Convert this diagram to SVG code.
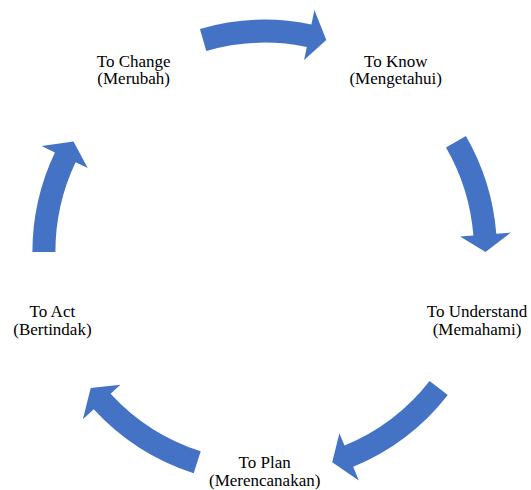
<svg xmlns="http://www.w3.org/2000/svg" width="531" height="490" viewBox="0 0 531 490">
  <style>
    .arrow { fill: #4472C4; stroke: none; }
    .label { font-family: "Liberation Serif", "Times New Roman", serif; font-size: 17px; fill: #000000; text-anchor: middle; }
  </style>
  <rect width="531" height="490" fill="#ffffff"/>

  <!-- curved cycle arrows on a circle centred at (264.7, 252), shaft radius 209.3..232.3 -->
  <g id="connectors">
    <path class="arrow" d="M199.9,28.9 A232.3,232.3 0 0 1 311.4,24.4 L314.4,10.0 L326.3,40.0 L304.1,60.0 L306.8,47.0 A209.3,209.3 0 0 0 206.3,51.0 Z"/>
    <path class="arrow" d="M465.9,135.9 A232.3,232.3 0 0 1 496.3,233.8 L510.9,232.6 L485.5,252 L460.1,236.6 L473.4,235.6 A209.3,209.3 0 0 0 446.0,147.4 Z"/>
    <path class="arrow" d="M447.8,395.0 A232.3,232.3 0 0 1 353.2,466.8 L358.8,480.4 L332.2,462.2 L339.4,433.2 L344.5,445.5 A209.3,209.3 0 0 0 429.6,380.9 Z"/>
    <path class="arrow" d="M193.7,473.2 A232.3,232.3 0 0 1 93.7,409.2 L82.9,419.2 L90.7,387.9 L120.4,384.7 L110.6,393.7 A209.3,209.3 0 0 0 200.7,451.3 Z"/>
    <path class="arrow" d="M32.4,252 A232.3,232.3 0 0 1 54.9,152.4 L41.6,146.1 L73.5,141.6 L87.7,167.9 L75.6,162.2 A209.3,209.3 0 0 0 55.4,252 Z"/>
  </g>

  <!-- two-line labels: English term with the Indonesian term in brackets -->
  <g id="node-know">
    <text class="label" x="395.7" y="66.7">To Know<tspan x="395.7" dy="17.6">(Mengetahui)</tspan></text>
  </g>
  <g id="node-understand">
    <text class="label" x="477" y="317.2">To Understand<tspan x="477" dy="17.6">(Memahami)</tspan></text>
  </g>
  <g id="node-plan">
    <text class="label" x="264.7" y="468">To Plan<tspan x="264.7" dy="17.6">(Merencanakan)</tspan></text>
  </g>
  <g id="node-act">
    <text class="label" x="52.4" y="317.2">To Act<tspan x="52.4" dy="17.6">(Bertindak)</tspan></text>
  </g>
  <g id="node-change">
    <text class="label" x="133.7" y="66.7">To Change<tspan x="133.7" dy="17.6">(Merubah)</tspan></text>
  </g>
</svg>
